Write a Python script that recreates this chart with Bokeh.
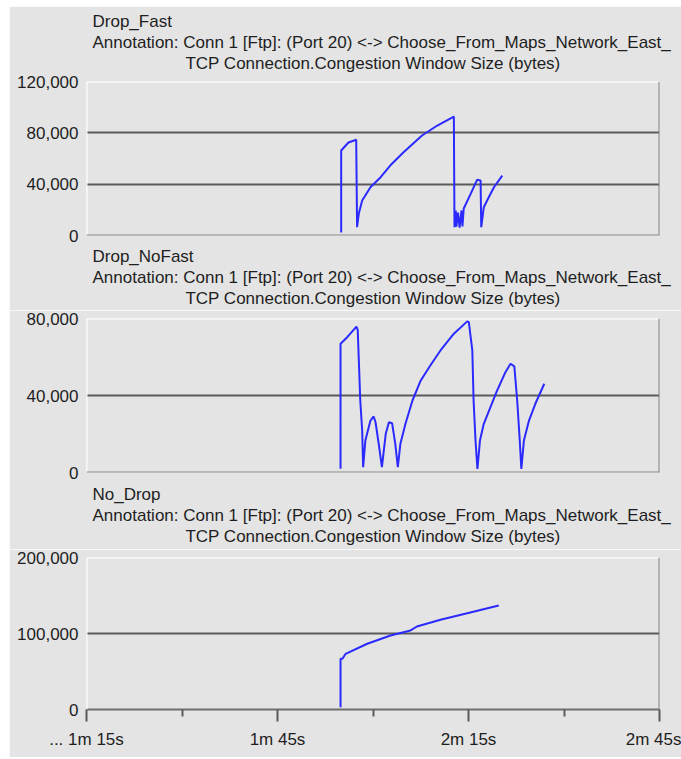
from bokeh.plotting import figure
from bokeh.models import Range1d, FixedTicker, NumeralTickFormatter, Span, Title
from bokeh.layouts import column
from bokeh.embed import file_html
from bokeh.resources import INLINE

# ---------------- data (time in seconds, window in bytes) ----------------
panel_names = ["Drop_Fast", "Drop_NoFast", "No_Drop"]
annotation_text = "Annotation: Conn 1 [Ftp]: (Port 20) <-> Choose_From_Maps_Network_East_"
stat_text = "TCP Connection.Congestion Window Size (bytes)"

fast_t = [115.0, 115.0, 116.15, 117.36, 117.5, 117.77, 118.3, 119.6, 121.2, 122.7,
          124.8, 127.7, 130.1, 132.7, 132.8, 133.0, 133.1, 133.35, 133.6, 133.9,
          134.05, 134.25, 135.3, 136.35, 136.9, 137.0, 137.4, 138.2, 139.0, 140.3]
fast_w = [2300, 66200, 72500, 74600, 6500, 17100, 27300, 37600, 45400, 54500,
          64900, 77900, 85700, 92700, 6500, 19500, 7000, 17900, 6200, 19500,
          7000, 21000, 32000, 43400, 42900, 6500, 22000, 30000, 37600, 46700]

nofast_t = [114.9, 114.9, 115.95, 117.4, 117.6, 118.0, 118.3, 118.45, 118.8, 119.6,
            120.1, 120.4, 120.9, 121.4, 122.0, 122.5, 123.0, 123.5, 123.9, 124.3,
            125.1, 126.2, 127.5, 129.0, 130.6, 132.7, 134.8, 135.05, 135.6, 135.8,
            136.1, 136.4, 136.8, 137.4, 138.45, 139.5, 140.8, 141.6, 142.2, 142.65,
            143.05, 143.3, 143.7, 144.5, 145.5, 146.9]
nofast_w = [1900, 66900, 70300, 75800, 74100, 37400, 21800, 2800, 16600, 27000,
            29100, 26100, 14900, 2800, 20100, 26100, 25600, 14900, 2800, 14900,
            25300, 37400, 47800, 55600, 63400, 72100, 78500, 78100, 63400, 37400,
            16600, 1900, 16600, 25300, 33900, 42600, 52100, 56500, 55100, 37400,
            16600, 1900, 16600, 27000, 35700, 46100]

nodrop_t = [114.9, 114.9, 115.2, 115.7, 119.1, 122.75, 125.9, 126.9, 130.6, 134.8, 139.75]
nodrop_w = [3000, 66700, 66700, 73300, 86500, 97400, 104000, 109200, 118000, 126700, 136900]

x_ticks = [75, 105, 135, 165]
x_minor_ticks = [90, 120, 150]
x_tick_labels = ["... 1m 15s", "1m 45s", "2m 15s", "2m 45s"]

y_ticks_fast = [0, 40000, 80000, 120000]
y_ticks_nofast = [0, 40000, 80000]
y_ticks_nodrop = [0, 100000, 200000]

# ---------------- styling ----------------
BG = "#e4e4e4"
FONT = "Liberation Sans"
FS = "17px"
TXT = "#1e1e1e"
LINE = "#2a2aff"
W = 672
BORDER_L = 77
FRAME_W = 573


def title(txt, align):
    return Title(text=txt, align=align, offset=6 if align == "left" else 0,
                 text_font=FONT, text_font_size=FS, text_font_style="normal",
                 text_color=TXT, standoff=0)


def spacer(gap):
    # blank title, only leaves room between the frame and the title lines
    return Title(text="\u00a0", text_font=FONT, text_font_size="1px",
                 text_color=BG, standoff=gap)


def add_titles(p, name, side, gap):
    p.add_layout(spacer(gap), side)
    lines = [title(stat_text, "center"), title(annotation_text, "left"), title(name, "left")]
    if side == "below":
        lines = lines[::-1]
    for t in lines:  # closest to the frame first
        p.add_layout(t, side)


def make_panel(t, w, yticks, top, frame_h, bottom, show_x):
    p = figure(width=W, height=top + frame_h + bottom,
               x_range=Range1d(x_ticks[0], x_ticks[-1]),
               y_range=Range1d(yticks[0], yticks[-1]),
               output_backend="svg", toolbar_location=None,
               x_axis_location="below" if show_x else None,
               background_fill_color=BG, border_fill_color=BG,
               outline_line_color=None,
               min_border_left=BORDER_L, min_border_right=W - BORDER_L - FRAME_W,
               min_border_top=top, min_border_bottom=bottom)

    yax = p.yaxis[0]
    yax.ticker = FixedTicker(ticks=yticks)
    yax.formatter = NumeralTickFormatter(format="0,0")
    yax.axis_line_color = None
    yax.major_tick_line_color = None
    yax.major_tick_out = 0
    yax.major_tick_in = 0
    yax.minor_tick_line_color = None
    yax.minor_tick_out = 0
    yax.major_label_standoff = 8
    yax.major_label_text_font = FONT
    yax.major_label_text_font_size = FS
    yax.major_label_text_color = TXT

    p.xgrid.grid_line_color = None
    p.ygrid.ticker = FixedTicker(ticks=yticks[1:-1])
    p.ygrid.grid_line_color = "#5a5a5a"
    p.ygrid.grid_line_width = 2

    # sunken frame edges
    p.add_layout(Span(location=yticks[-1], dimension="width", line_color="white", line_width=2))
    p.add_layout(Span(location=x_ticks[0], dimension="height", line_color="white", line_width=2))
    p.add_layout(Span(location=x_ticks[-1], dimension="height", line_color="#808080", line_width=2))
    if not show_x:
        p.add_layout(Span(location=yticks[0], dimension="width", line_color="#8a8a8a", line_width=2))

    if show_x:
        xax = p.xaxis[0]
        xax.ticker = FixedTicker(ticks=x_ticks, minor_ticks=x_minor_ticks)
        xax.major_label_overrides = {k: v for k, v in zip(x_ticks, x_tick_labels)}
        xax.axis_line_color = "#6e6e6e"
        xax.axis_line_width = 2
        xax.major_tick_line_color = "#5a5a5a"
        xax.major_tick_line_width = 2
        xax.major_tick_in = 0
        xax.major_tick_out = 12
        xax.minor_tick_line_color = "#5a5a5a"
        xax.minor_tick_line_width = 2
        xax.minor_tick_in = 0
        xax.minor_tick_out = 7
        xax.major_label_standoff = 8
        xax.major_label_text_font = FONT
        xax.major_label_text_font_size = FS
        xax.major_label_text_color = TXT

    p.line(t, w, line_color=LINE, line_width=2)
    return p


p1 = make_panel(fast_t, fast_w, y_ticks_fast, 75, 154, 75, False)
add_titles(p1, panel_names[0], "above", 6)
add_titles(p1, panel_names[1], "below", 6)

p2 = make_panel(nofast_t, nofast_w, y_ticks_nofast, 8, 154, 77, False)
add_titles(p2, panel_names[2], "below", 7)

p3 = make_panel(nodrop_t, nodrop_w, y_ticks_nodrop, 8, 152, 48, True)

layout = column(p1, p2, p3, spacing=0, margin=(6, 0, 0, 9))
open("out.html", "w").write(file_html(layout, INLINE))
